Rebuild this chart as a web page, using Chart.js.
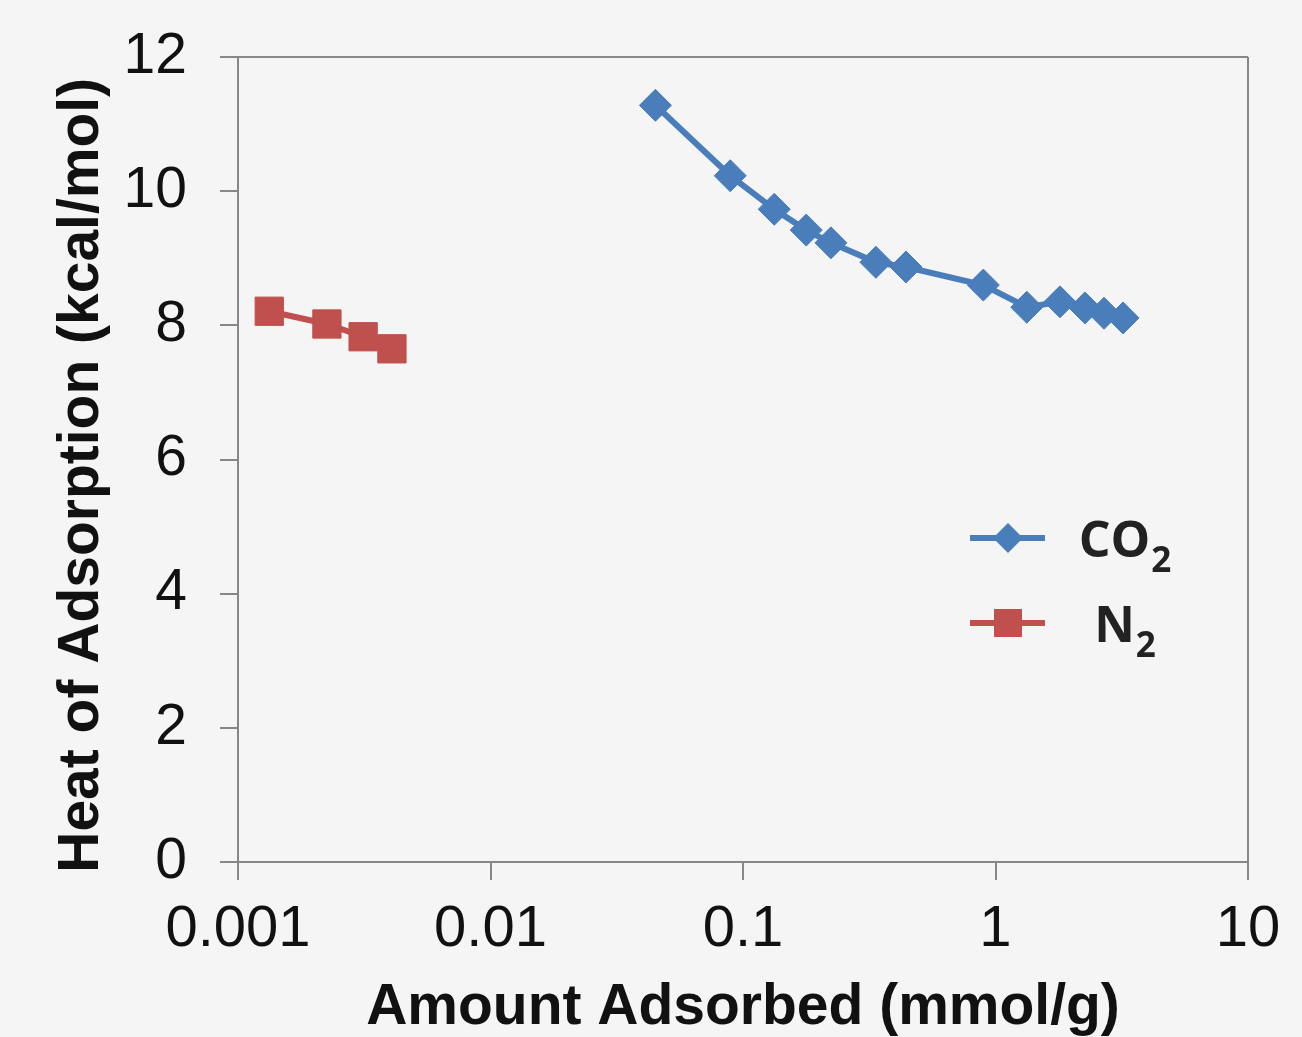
<!DOCTYPE html>
<html>
<head>
<meta charset="utf-8">
<script src="https://cdn.jsdelivr.net/npm/chart.js@4.4.1/dist/chart.umd.min.js"></script>
<style>
html,body{margin:0;padding:0;background:#f5f5f5;}
#wrap{width:1302px;height:1037px;}
canvas{display:block;}
</style>
</head>
<body>
<div id="wrap"><canvas id="c" width="1302" height="1037"></canvas></div>
<script>
// ---- data ----
const co2Label = 'CO₂';
const co2X = [0.045, 0.089, 0.133, 0.178, 0.223, 0.336, 0.442, 0.895, 1.33, 1.80, 2.26, 2.69, 3.20];
const co2Y = [11.28, 10.23, 9.73, 9.42, 9.23, 8.94, 8.87, 8.60, 8.27, 8.35, 8.26, 8.18, 8.11];
const n2Label = 'N₂';
const n2X = [0.00133, 0.00225, 0.00313, 0.00407];
const n2Y = [8.21, 8.02, 7.83, 7.65];
const xTickValues = [0.001, 0.01, 0.1, 1, 10];
const xTickLabels = ['0.001', '0.01', '0.1', '1', '10'];
const yTickValues = [0, 2, 4, 6, 8, 10, 12];
const xTitle = 'Amount Adsorbed (mmol/g)';
const yTitle = 'Heat of Adsorption (kcal/mol)';

const blue = '#4a7ebb';
const red = '#c0504d';
const axisGrey = '#878787';

const toPts = (xs, ys) => xs.map((x, i) => ({x: x, y: ys[i]}));

const legendPlugin = {
  id: 'customLegend',
  afterDraw(chart) {
    const ctx = chart.ctx;
    const rows = [538, 623];
    chart.data.datasets.forEach((ds, i) => {
      const y = rows[i];
      ctx.save();
      ctx.strokeStyle = ds.borderColor;
      ctx.lineWidth = 6;
      ctx.beginPath();
      ctx.moveTo(970, y);
      ctx.lineTo(1045, y);
      ctx.stroke();
      ctx.fillStyle = ds.backgroundColor;
      const cx = 1008;
      ctx.beginPath();
      if (ds.pointStyle === 'rectRot') {
        const r = 15;
        ctx.moveTo(cx, y - r); ctx.lineTo(cx + r, y); ctx.lineTo(cx, y + r); ctx.lineTo(cx - r, y);
        ctx.closePath();
      } else {
        const h = 14;
        ctx.rect(cx - h, y - h, 2 * h, 2 * h);
      }
      ctx.fill();
      // label with subscript
      const label = ds.label;
      const m = label.match(/^(.*?)([₀-₉]+)$/);
      const main = m ? m[1] : label;
      const sub = m ? m[2].replace(/[₀-₉]/g, c => String(c.charCodeAt(0) - 0x2080)) : '';
      const mainFont = 'bold 50px "Open Sans", "DejaVu Sans", sans-serif';
      const subFont = 'bold 35px "Open Sans", "DejaVu Sans", sans-serif';
      ctx.font = mainFont;
      const wMain = ctx.measureText(main).width;
      ctx.font = subFont;
      const wSub = ctx.measureText(sub).width;
      const total = wMain + 1 + wSub;
      const left = 1125 - total / 2;
      const base = y + 19;
      ctx.fillStyle = '#222222';
      ctx.textBaseline = 'alphabetic';
      ctx.textAlign = 'left';
      ctx.font = mainFont;
      ctx.fillText(main, left, base);
      ctx.font = subFont;
      ctx.fillText(sub, left + wMain + 1, base + 15);
      ctx.restore();
    });
  }
};

const bgPlugin = {
  id: 'bg',
  beforeDraw(chart) {
    const ctx = chart.ctx;
    ctx.save();
    ctx.fillStyle = '#f5f5f5';
    ctx.fillRect(0, 0, chart.width, chart.height);
    ctx.restore();
  }
};

new Chart(document.getElementById('c'), {
  type: 'line',
  data: {
    datasets: [
      {
        label: co2Label,
        data: toPts(co2X, co2Y),
        borderColor: blue,
        backgroundColor: blue,
        borderWidth: 6,
        pointStyle: 'rectRot',
        pointRadius: 16,
        pointHoverRadius: 16,
        pointBorderWidth: 1,
        pointBorderColor: blue,
        pointBackgroundColor: blue,
        tension: 0
      },
      {
        label: n2Label,
        data: toPts(n2X, n2Y),
        borderColor: red,
        backgroundColor: red,
        borderWidth: 6,
        pointStyle: 'rect',
        pointRadius: 20,
        pointHoverRadius: 20,
        pointBorderWidth: 1,
        pointBorderColor: red,
        pointBackgroundColor: red,
        tension: 0
      }
    ]
  },
  options: {
    responsive: false,
    animation: false,
    devicePixelRatio: 1,
    layout: { padding: { top: 57, right: 54, left: 0, bottom: 0 } },
    plugins: {
      legend: { display: false },
      tooltip: { enabled: false }
    },
    scales: {
      x: {
        type: 'logarithmic',
        position: 'bottom',
        min: 0.001,
        max: 10,
        afterBuildTicks(scale) {
          scale.ticks = xTickValues.map(v => ({ value: v, major: true }));
        },
        afterFit(scale) { scale.height = 175; },
        ticks: {
          autoSkip: false,
          maxRotation: 0,
          padding: 15,
          color: '#111111',
          font: { family: '"Liberation Sans", Arial, sans-serif', size: 58 },
          callback(value) {
            const i = xTickValues.findIndex(v => Math.abs(v - value) / v < 1e-6);
            return i >= 0 ? xTickLabels[i] : '';
          }
        },
        grid: {
          display: true,
          drawOnChartArea: true,
          drawTicks: true,
          tickLength: 18,
          lineWidth: 2,
          tickWidth: 2,
          tickColor: axisGrey,
          color: (c) => (c.tick && c.tick.value === 10 ? axisGrey : 'rgba(0,0,0,0)')
        },
        border: { display: true, color: axisGrey, width: 2 },
        title: {
          display: true,
          text: xTitle,
          color: '#111111',
          padding: 0,
          font: { family: '"Liberation Sans", Arial, sans-serif', size: 57, weight: 'bold', lineHeight: 1 }
        }
      },
      y: {
        type: 'linear',
        position: 'left',
        min: 0,
        max: 12,
        afterBuildTicks(scale) {
          scale.ticks = yTickValues.map(v => ({ value: v }));
        },
        afterFit(scale) { scale.width = 238; },
        ticks: {
          padding: 33,
          color: '#111111',
          font: { family: '"Liberation Sans", Arial, sans-serif', size: 57, lineHeight: 0.8 }
        },
        grid: {
          display: true,
          drawOnChartArea: true,
          drawTicks: true,
          tickLength: 18,
          lineWidth: 2,
          tickWidth: 2,
          tickColor: axisGrey,
          color: (c) => (c.tick && c.tick.value === 12 ? axisGrey : 'rgba(0,0,0,0)')
        },
        border: { display: true, color: axisGrey, width: 2 },
        title: {
          display: true,
          text: yTitle + '  ',
          color: '#111111',
          padding: { top: 54, bottom: 0 },
          font: { family: '"Liberation Sans", Arial, sans-serif', size: 57, weight: 'bold', lineHeight: 1 }
        }
      }
    }
  },
  plugins: [bgPlugin, legendPlugin]
});
</script>
</body>
</html>
